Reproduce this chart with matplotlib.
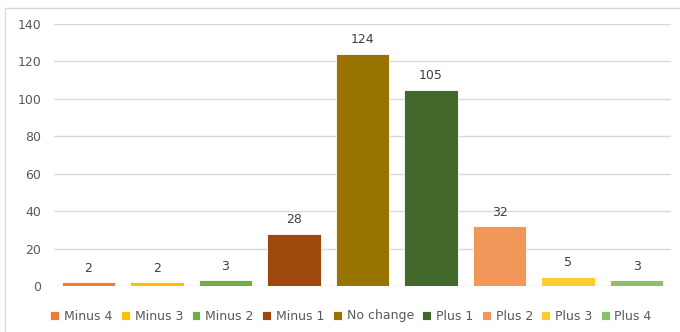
import matplotlib.pyplot as plt
from matplotlib.patches import Rectangle

# Count of students by grade change
categories = ['Minus 4', 'Minus 3', 'Minus 2', 'Minus 1', 'No change',
              'Plus 1', 'Plus 2', 'Plus 3', 'Plus 4']
counts = [2, 2, 3, 28, 124, 105, 32, 5, 3]
colors = ['#ED7D31', '#FFC000', '#70AD47', '#9E480E', '#997300',
          '#43682B', '#F1975A', '#FFCD33', '#8CC168']

plt.rcParams['font.family'] = ['DejaVu Sans']
text_col = '#595959'

fig = plt.figure(figsize=(6.8, 3.32), dpi=100)
ax = fig.add_axes([54 / 680, 1 - 286 / 332, 617 / 680, 262 / 332])

x = range(len(categories))
for i in x:
    ax.bar(i, counts[i], width=0.78, color=colors[i], label=categories[i],
           edgecolor='white', linewidth=0.6, zorder=3)
    ax.text(i, counts[i] + 4, str(counts[i]), ha='center', va='bottom',
            fontsize=9, color='#404040')

ax.set_xlim(-0.5, len(categories) - 0.5)
ax.set_ylim(0, 140)
ax.set_yticks(range(0, 141, 20))
ax.set_xticks([])
ax.tick_params(axis='y', length=0, labelsize=9, labelcolor=text_col, pad=9)
ax.grid(axis='y', color='#D9D9D9', linewidth=1, zorder=0)
for s in ax.spines.values():
    s.set_visible(False)

# outer chart border
fig.patches.append(Rectangle((5 / 680, -0.1), 2, (1 - 8 / 332) + 0.1,
                             transform=fig.transFigure, fill=False,
                             edgecolor='#D9D9D9', linewidth=1))

fig.legend(loc='center', bbox_to_anchor=(351 / 680, 1 - 316 / 332), ncol=9,
           frameon=False, fontsize=9, handlelength=0.7, handleheight=0.7,
           handletextpad=0.4, columnspacing=0.68, labelcolor=text_col)

fig.savefig('out.png', dpi=100)
